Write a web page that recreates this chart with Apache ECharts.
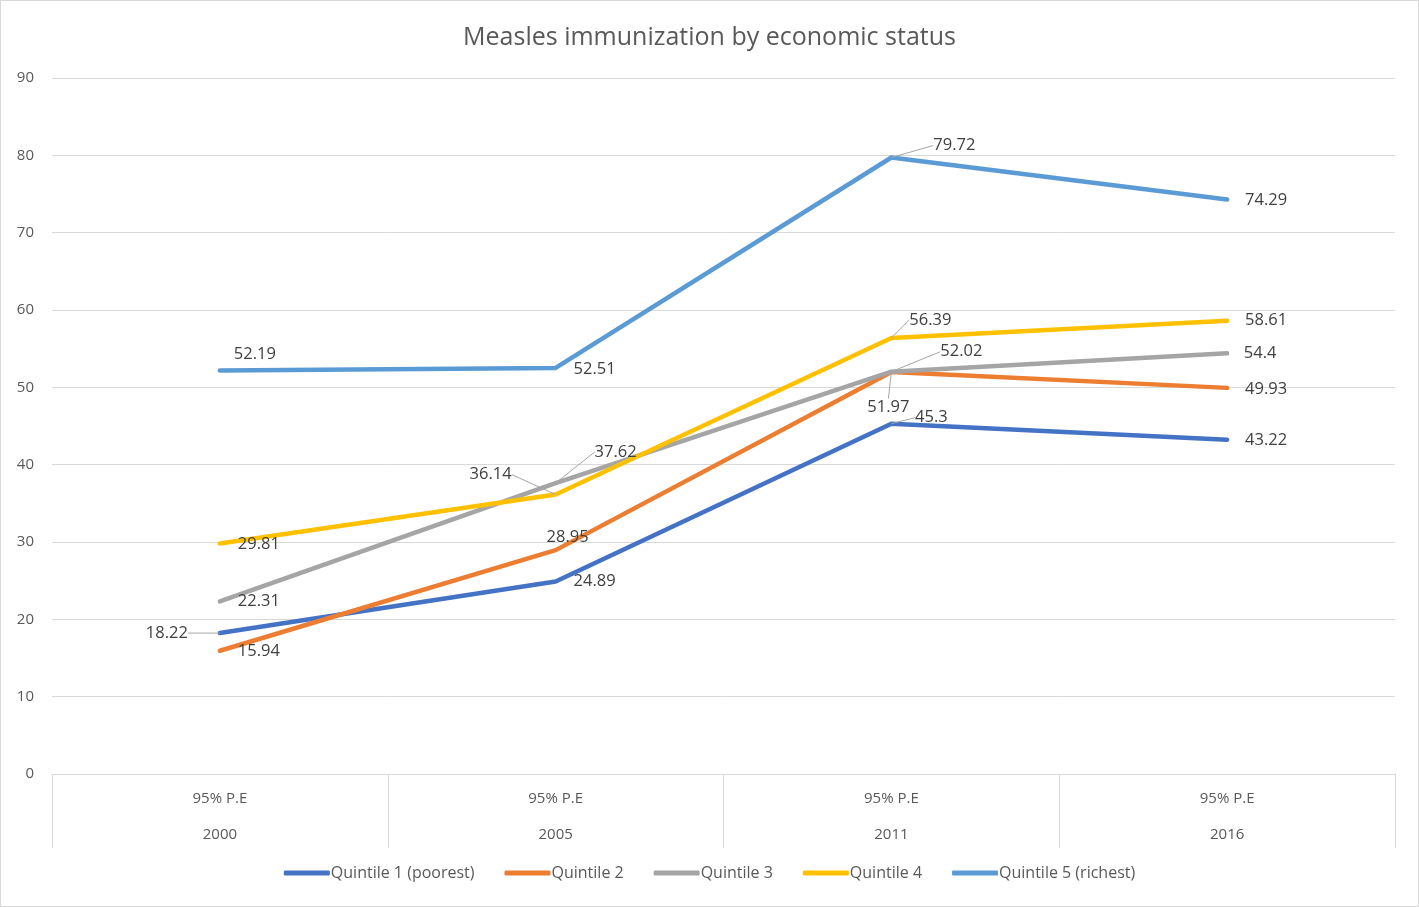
<!DOCTYPE html>
<html>
<head>
<meta charset="utf-8">
<script src="https://cdn.jsdelivr.net/npm/echarts@6/dist/echarts.min.js"></script>
<style>
  html, body { margin: 0; padding: 0; background: #fff; }
  #main { width: 1417px; height: 905px; border: 1px solid #d9d9d9; }
</style>
</head>
<body>
<div id="main"></div>
<script>
// chart data
var years = ['2000', '2005', '2011', '2016']
var subLabel = '95% P.E'
var yTicks = [0, 10, 20, 30, 40, 50, 60, 70, 80, 90]
var quintile1 = [18.22, 24.89, 45.3, 43.22]
var quintile2 = [15.94, 28.95, 51.97, 49.93]
var quintile3 = [22.31, 37.62, 52.02, 54.4]
var quintile4 = [29.81, 36.14, 56.39, 58.61]
var quintile5 = [52.19, 52.51, 79.72, 74.29]
var names = ['Quintile 1 (poorest)', 'Quintile 2', 'Quintile 3', 'Quintile 4', 'Quintile 5 (richest)']

// label placement (offset of label centre from point), leader line flags
var labelOffsets = [
  [[-53, 0], [39, 0], [40, -6], [39, 1]],
  [[39, 1], [12, -13], [-3, 35], [39, 1]],
  [[39, 0], [60, -31], [70, -20], [33, 0]],
  [[39, 1], [-65, -20], [39, -18], [39, 0]],
  [[35, -16], [39, 1], [63, -12], [39, 1]]
]
var leaders = [
  [true, false, true, false],
  [false, false, true, false],
  [false, true, true, false],
  [false, true, true, false],
  [false, false, true, false]
]
var colors = ['#4472C4', '#ED7D31', '#A5A5A5', '#FFC000', '#5B9BD5']
var FONT = '"Open Sans", sans-serif'

var chart = echarts.init(document.getElementById('main'))

function makeSeries(idx, values) {
  return {
    name: names[idx],
    type: 'line',
    data: values.map(function (v, i) {
      return {
        value: v,
        labelLine: { show: leaders[idx][i] }
      }
    }),
    symbol: 'circle',
    symbolSize: 0.1,
    showSymbol: true,
    lineStyle: { color: colors[idx], width: 4.5, cap: 'round', join: 'round' },
    itemStyle: { color: colors[idx] },
    label: {
      show: true,
      position: 'inside',
      color: '#404040',
      fontFamily: FONT,
      fontSize: 16.5
    },
    labelLine: {
      lineStyle: { color: '#a6a6a6', width: 1 }
    },
    labelLayout: function (p) {
      var o = labelOffsets[idx][p.dataIndex]
      return { dx: o[0], dy: o[1] }
    },
    animation: false
  }
}

chart.setOption({
  backgroundColor: '#fff',
  title: {
    text: 'Measles immunization by economic status',
    left: 'center',
    top: 19,
    textStyle: { color: '#595959', fontFamily: FONT, fontSize: 25, fontWeight: 'normal' }
  },
  grid: { left: 51, right: 23, top: 77, bottom: 132, containLabel: false },
  legend: {
    bottom: 20,
    left: 'center',
    icon: 'roundRect',
    itemWidth: 46,
    itemHeight: 5,
    itemGap: 30,
    textStyle: { color: '#595959', fontFamily: FONT, fontSize: 16, padding: [0, 0, 0, -4] },
    data: names
  },
  xAxis: {
    type: 'category',
    data: years,
    boundaryGap: true,
    axisLine: { show: true, lineStyle: { color: '#d9d9d9', width: 1 } },
    axisTick: { show: true, interval: 0, length: 74, lineStyle: { color: '#d9d9d9' } },
    axisLabel: {
      interval: 0,
      margin: 16,
      color: '#595959',
      fontFamily: FONT,
      fontSize: 15,
      lineHeight: 18,
      formatter: function (v) { return subLabel + '\n\n' + v }
    }
  },
  yAxis: {
    type: 'value',
    min: yTicks[0],
    max: yTicks[yTicks.length - 1],
    interval: 10,
    axisLine: { show: false },
    axisTick: { show: false },
    axisLabel: { color: '#595959', fontFamily: FONT, fontSize: 15, margin: 18 },
    splitLine: { lineStyle: { color: '#d9d9d9', width: 1 } }
  },
  series: [
    makeSeries(0, quintile1),
    makeSeries(1, quintile2),
    makeSeries(2, quintile3),
    makeSeries(3, quintile4),
    makeSeries(4, quintile5)
  ]
})
</script>
</body>
</html>
